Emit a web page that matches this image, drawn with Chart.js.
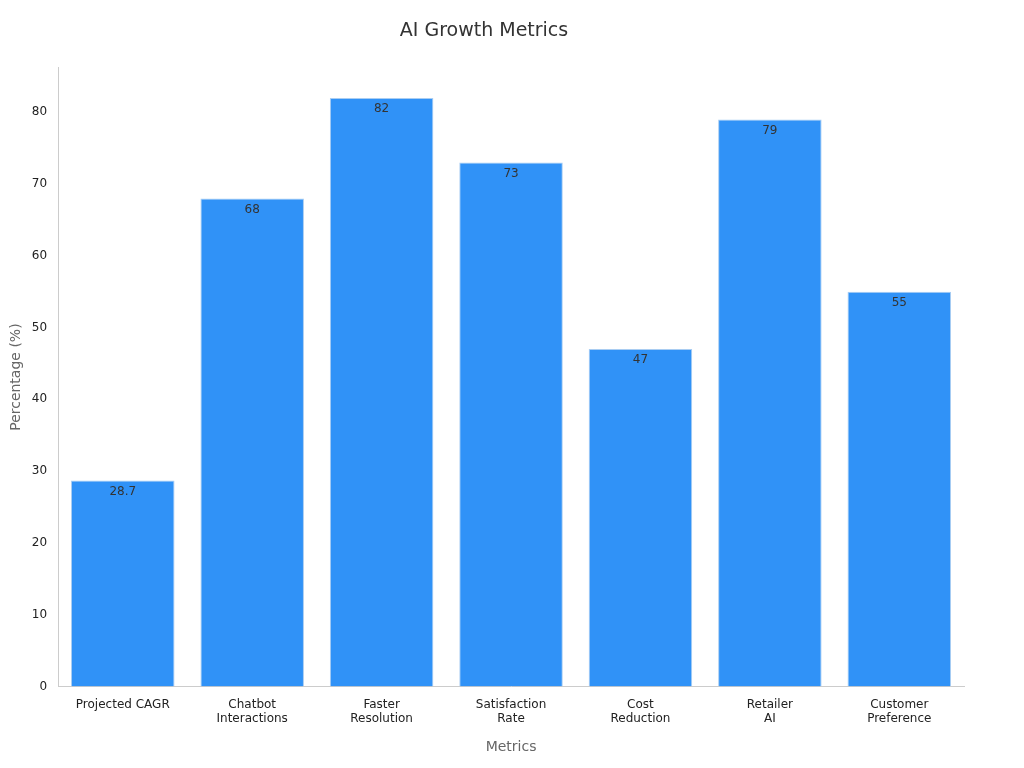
<!DOCTYPE html>
<html><head><meta charset="utf-8">
<script src="https://cdn.jsdelivr.net/npm/chart.js@4/dist/chart.umd.min.js"></script>
<style>html,body{margin:0;background:#fff}#w{width:1024px;height:768px}</style>
</head><body><div id="w"><canvas id="c"></canvas></div>
<script>
const categories = [["Projected CAGR"],["Chatbot","Interactions"],["Faster","Resolution"],["Satisfaction","Rate"],["Cost","Reduction"],["Retailer","AI"],["Customer","Preference"]];
const values = [28.7,68,82,73,47,79,55];
const yTicks = [0,10,20,30,40,50,60,70,80];
const labelPlugin = {id:'lbl',afterDatasetsDraw(ch){const ctx=ch.ctx;const m=ch.getDatasetMeta(0);ctx.save();ctx.font='12px "DejaVu Sans"';ctx.fillStyle='#333';ctx.textAlign='center';ctx.textBaseline='top';m.data.forEach((b,i)=>ctx.fillText(String(values[i]),b.x,b.y+5));ctx.restore();}};
new Chart(document.getElementById('c'),{type:'bar',
data:{labels:categories,datasets:[{data:values,backgroundColor:'#3092f7',borderColor:'#a9cdf2',borderWidth:1,barPercentage:0.8,categoryPercentage:1}]},
options:{responsive:true,maintainAspectRatio:false,animation:false,
layout:{padding:{top:10,right:60,bottom:8,left:4}},
plugins:{legend:{display:false},tooltip:{enabled:false},title:{display:true,text:'AI Growth Metrics',color:'#333',font:{family:'DejaVu Sans',size:19,weight:'normal'},padding:{top:10,bottom:25}}},
scales:{x:{grid:{display:false},border:{color:'#ccc'},ticks:{color:'#222',font:{family:'DejaVu Sans',size:12},maxRotation:0},title:{display:true,text:'Metrics',color:'#666',font:{family:'DejaVu Sans',size:14},padding:{top:10}}},
y:{min:0,max:86.2,afterBuildTicks(a){a.ticks=yTicks.map(v=>({value:v}));},grid:{display:false,drawTicks:true},border:{color:'#ccc'},ticks:{color:'#222',font:{family:'DejaVu Sans',size:12}},title:{display:true,text:'Percentage (%)',color:'#666',font:{family:'DejaVu Sans',size:14}}}}},
plugins:[labelPlugin]});
</script></body></html>
